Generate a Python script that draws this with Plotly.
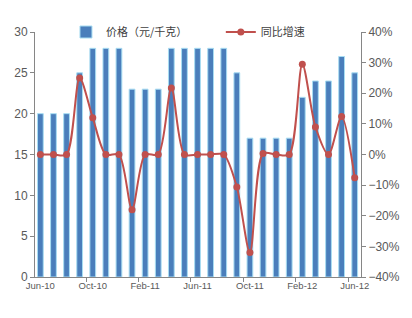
import plotly.graph_objects as go

months = ["Jun-10","Jul-10","Aug-10","Sep-10","Oct-10","Nov-10","Dec-10",
          "Jan-11","Feb-11","Mar-11","Apr-11","May-11","Jun-11","Jul-11","Aug-11",
          "Sep-11","Oct-11","Nov-11","Dec-11","Jan-12","Feb-12","Mar-12","Apr-12",
          "May-12","Jun-12"]
price = [20,20,20,25,28,28,28,23,23,23,28,28,28,28,28,25,17,17,17,17,22,24,24,27,25]
yoy = [0,0,0,25,12,0,0,-18,0,0,21.7,0,0,0,0,-10.6,-32,0.3,0,0,29.5,9,0,12.4,-7.6]
tick_labels = ["Jun-10","Oct-10","Feb-11","Jun-11","Oct-11","Feb-12","Jun-12"]

grey = "#595959"
axis_col = "#868686"

fig = go.Figure()
fig.add_trace(go.Bar(
    x=months, y=price, name="价格（元/千克）", width=0.44,
    marker=dict(color="#4A7EBB", line=dict(color="#A8DDF2", width=1)),
    legend="legend", yaxis="y", showlegend=True))
fig.add_trace(go.Scatter(
    x=months, y=yoy, name="同比增速", mode="lines+markers",
    line=dict(color="#C0504D", width=2, shape="spline", smoothing=0.8),
    marker=dict(color="#C0504D", size=7),
    legend="legend2", yaxis="y2", showlegend=True))

fig.update_layout(
    width=412, height=318,
    showlegend=True,
    margin=dict(l=35, r=41, t=32, b=41),
    plot_bgcolor="white", paper_bgcolor="white",
    font=dict(family="Liberation Sans, Noto Sans CJK SC", color=grey),
    xaxis=dict(type="category", range=[-0.41, 24.48], tickmode="array",
               tickvals=tick_labels, ticktext=tick_labels, tickson="boundaries",
               ticks="outside", ticklen=4, tickcolor=axis_col, tickangle=0,
               showline=True, linecolor=axis_col, linewidth=1,
               showgrid=False, tickfont=dict(size=9.5, color=grey)),
    yaxis=dict(range=[0, 30], dtick=5, ticks="outside", ticklen=4,
               tickcolor=axis_col, showline=True, linecolor=axis_col,
               showgrid=False, zeroline=False, tickfont=dict(size=12, color=grey)),
    yaxis2=dict(range=[-40, 40], dtick=10, ticksuffix="%", overlaying="y",
                side="right", ticks="outside", ticklen=4, tickcolor=axis_col,
                showline=True, linecolor=axis_col, showgrid=False, zeroline=False,
                tickfont=dict(size=12, color=grey)),
    legend=dict(orientation="h", x=0.095, y=1.0, xanchor="left", yanchor="middle",
                bgcolor="rgba(0,0,0,0)", font=dict(size=11, family="Noto Sans CJK SC", color="#404040")),
    legend2=dict(orientation="h", x=0.57, y=1.0, xanchor="left", yanchor="middle",
                 bgcolor="rgba(0,0,0,0)", font=dict(size=11, family="Noto Sans CJK SC", color="#404040")),
)

fig.write_html("out.html")
